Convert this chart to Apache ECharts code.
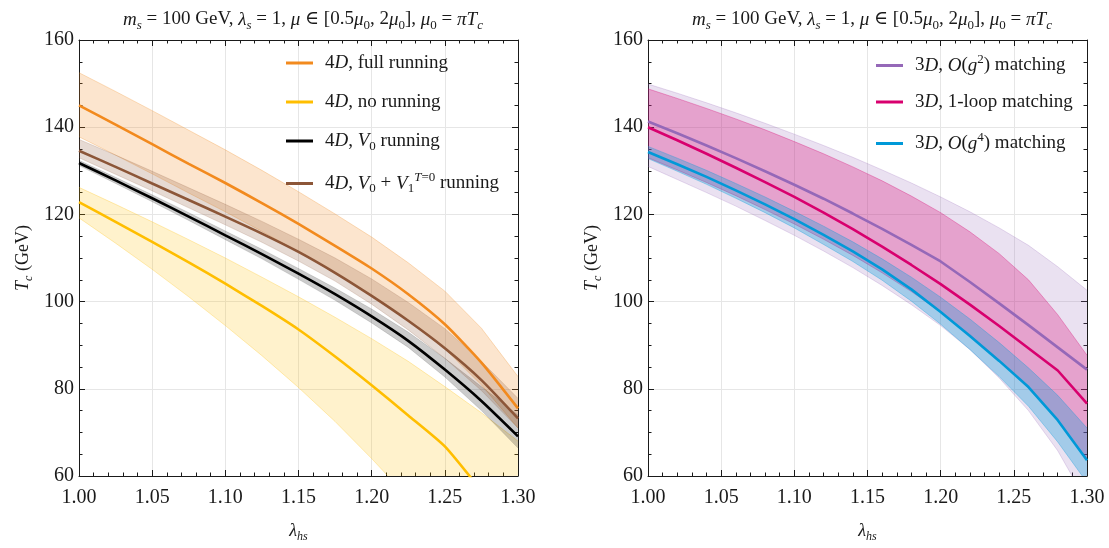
<!DOCTYPE html>
<html>
<head>
<meta charset="utf-8">
<script src="https://cdn.jsdelivr.net/npm/echarts@6/dist/echarts.min.js"></script>
<style>
  html, body { margin: 0; padding: 0; background: #fff; }
  #chart { width: 1109px; height: 548px; }
</style>
</head>
<body>
<div id="chart"></div>
<script>
// ---- data: 4D panel (lambda_hs step 0.025) ----
const x4D = [1.000, 1.025, 1.050, 1.075, 1.100, 1.125, 1.150, 1.175, 1.200, 1.225, 1.250, 1.275, 1.300];
const fullRun   = [145.0, 140.6, 136.1, 131.6, 127.2, 122.6, 117.8, 112.8, 107.6, 101.7, 94.8, 86.0, 75.5];
const fullRunLo = [137.8, 133.6, 129.3, 124.9, 120.6, 116.1, 111.4, 106.5, 101.4, 95.7, 89.2, 80.9, 71.0];
const fullRunHi = [152.5, 148.2, 143.8, 139.3, 134.8, 130.1, 125.2, 120.1, 114.8, 108.9, 102.4, 93.9, 82.8];
const noRun     = [122.8, 118.3, 113.7, 109.0, 104.1, 99.0, 93.6, 87.4, 80.8, 73.9, 66.8, 56.6, 46.0];
const noRunLo   = [119.2, 113.4, 107.4, 101.1, 94.5, 87.6, 80.3, 72.5, 64.0, 55.0, 45.0, 35.0, 25.0];
const noRunHi   = [126.2, 122.3, 118.3, 114.2, 110.0, 105.6, 101.1, 96.4, 91.5, 86.3, 80.5, 74.5, 68.0];
const v0Run     = [131.8, 127.8, 123.7, 119.5, 115.2, 110.9, 106.4, 101.7, 96.6, 91.0, 84.4, 77.2, 69.1];
const v0RunLo   = [131.2, 127.1, 122.9, 118.6, 114.2, 109.8, 105.1, 100.3, 95.1, 89.5, 82.7, 75.0, 66.4];
const v0RunHi   = [132.4, 128.5, 124.5, 120.4, 116.2, 112.0, 107.6, 103.1, 98.3, 93.0, 87.0, 80.5, 74.0];
const v01Run    = [134.6, 130.9, 127.1, 123.3, 119.5, 115.6, 111.4, 106.6, 101.3, 95.6, 89.3, 82.0, 73.2];
const v01RunLo  = [133.0, 129.2, 125.4, 121.5, 117.6, 113.6, 109.3, 104.7, 99.4, 93.5, 87.0, 79.6, 71.0];
const v01RunHi  = [137.2, 133.6, 129.9, 126.1, 122.3, 118.4, 114.3, 110.0, 105.2, 99.8, 93.8, 86.3, 77.8];

// ---- data: 3D panel (lambda_hs step 0.02) ----
const x3D = [1.00, 1.02, 1.04, 1.06, 1.08, 1.10, 1.12, 1.14, 1.16, 1.18, 1.20, 1.22, 1.24, 1.26, 1.28, 1.30];
const g2Match   = [141.3, 138.6, 135.8, 132.9, 129.9, 126.8, 123.6, 120.2, 116.7, 113.0, 109.2, 104.5, 99.6, 94.6, 89.5, 84.4];
const g2MatchLo = [131.0, 128.0, 125.0, 121.9, 118.6, 115.2, 111.6, 107.8, 103.7, 99.3, 94.5, 89.0, 82.5, 75.0, 65.8, 54.0];
const g2MatchHi = [149.9, 147.8, 145.6, 143.3, 140.9, 138.4, 135.8, 133.1, 130.2, 127.2, 124.0, 120.6, 116.9, 112.9, 108.0, 102.6];
const loopMatch   = [140.0, 137.0, 133.9, 130.7, 127.4, 124.0, 120.4, 116.6, 112.6, 108.4, 104.0, 99.3, 94.4, 89.3, 84.2, 76.6];
const loopMatchLo = [133.0, 130.2, 127.3, 124.3, 121.1, 117.8, 114.3, 110.6, 106.6, 102.3, 97.6, 92.4, 86.6, 80.1, 72.7, 64.0];
const loopMatchHi = [148.8, 146.6, 144.3, 141.9, 139.4, 136.7, 133.9, 130.9, 127.7, 124.2, 120.4, 116.0, 111.0, 105.0, 97.0, 87.7];
const g4Match   = [134.3, 131.5, 128.6, 125.5, 122.3, 118.9, 115.3, 111.5, 107.4, 102.8, 97.6, 92.1, 86.4, 80.4, 72.8, 63.6];
const g4MatchLo = [132.8, 129.9, 126.9, 123.7, 120.4, 116.9, 113.1, 109.2, 104.9, 100.1, 94.8, 89.0, 82.8, 76.0, 67.8, 58.5];
const g4MatchHi = [135.6, 132.9, 130.1, 127.1, 124.0, 120.7, 117.3, 113.7, 109.8, 105.6, 101.0, 96.0, 90.6, 84.8, 78.5, 71.0];

// axis ranges and ticks
const xMin = 1.0, xMax = 1.3, xStep = 0.05;
const yMin = 60, yMax = 160, yStep = 20;

const SERIF = '"Liberation Serif", "DejaVu Serif", serif';
const INK = '#1a1a1a';

function richSet(size, lh) {
  const s = Math.round(size * 0.68);
  const base = { fontFamily: SERIF, color: INK, fontWeight: 'normal' };
  return {
    r:    Object.assign({}, base, { fontSize: size, lineHeight: lh }),
    i:    Object.assign({}, base, { fontSize: size, lineHeight: lh, fontStyle: 'italic' }),
    sub:  Object.assign({}, base, { fontSize: s, lineHeight: s, verticalAlign: 'bottom' }),
    isub: Object.assign({}, base, { fontSize: s, lineHeight: s, verticalAlign: 'bottom', fontStyle: 'italic' }),
    sup:  Object.assign({}, base, { fontSize: s, lineHeight: s, verticalAlign: 'top' }),
    isup: Object.assign({}, base, { fontSize: s, lineHeight: s, verticalAlign: 'top', fontStyle: 'italic' })
  };
}
const richTitle = richSet(19, 25);
const richLegend = richSet(19, 24);
const richAxis = richSet(18, 24);

const titleText = '{i|m}{isub|s}{r| = 100 GeV, }{i|λ}{isub|s}{r| = 1, }{i|μ}{r| ∈ [0.5}{i|μ}{sub|0}{r|, 2}{i|μ}{sub|0}{r|], }{i|μ}{sub|0}{r| = }{i|πT}{isub|c}';

const legendLabels = {
  'full':  '{r|4}{i|D}{r|, full running}',
  'none':  '{r|4}{i|D}{r|, no running}',
  'v0':    '{r|4}{i|D}{r|, }{i|V}{sub|0}{r| running}',
  'v01':   '{r|4}{i|D}{r|, }{i|V}{sub|0}{r| + }{i|V}{sub|1}{isup|T}{sup|=0}{r| running}',
  'g2':    '{r|3}{i|D}{r|, }{i|O}{r|(}{i|g}{sup|2}{r|) matching}',
  'loop':  '{r|3}{i|D}{r|, 1-loop matching}',
  'g4':    '{r|3}{i|D}{r|, }{i|O}{r|(}{i|g}{sup|4}{r|) matching}'
};

const pairs = (xs, ys) => xs.map((x, k) => [x, ys[k]]);

// shaded uncertainty band between lo and hi, drawn as one polygon in data coordinates
function band(gi, xs, lo, hi, color, alpha, edgeAlpha) {
  return {
    type: 'custom', coordinateSystem: 'cartesian2d',
    xAxisIndex: gi * 2, yAxisIndex: gi * 2, clip: true, silent: true, z: 1,
    data: [[xs[0], lo[0]]],
    renderItem: function (params, api) {
      const top = xs.map((x, k) => api.coord([x, hi[k]]));
      const bot = xs.map((x, k) => api.coord([x, lo[k]]));
      const poly = top.concat(bot.slice().reverse());
      const cs = params.coordSys;
      return {
        type: 'group',
        clipPath: { type: 'rect', shape: { x: cs.x, y: cs.y, width: cs.width, height: cs.height } },
        children: [
          { type: 'polygon', shape: { points: poly }, style: { fill: color, opacity: alpha } },
          { type: 'polyline', shape: { points: top }, style: { fill: null, stroke: color, lineWidth: 0.8, opacity: edgeAlpha } },
          { type: 'polyline', shape: { points: bot }, style: { fill: null, stroke: color, lineWidth: 0.8, opacity: edgeAlpha } }
        ]
      };
    }
  };
}

function curve(key, gi, xs, ys, color, smooth) {
  return {
    type: 'line', name: key, xAxisIndex: gi * 2, yAxisIndex: gi * 2,
    data: pairs(xs, ys), symbol: 'none', smooth: smooth, z: 3,
    lineStyle: { color: color, width: 2.6 }, itemStyle: { color: color }
  };
}

const C = {
  full: '#F28A1E', none: '#FFBE00', v0: '#000000', v01: '#8C5638',
  g2: '#9568B8', loop: '#D8006E', g4: '#0099D8'
};

function xAxes(gi) {
  const base = {
    type: 'value', gridIndex: gi, min: xMin, max: xMax, interval: xStep,
    axisLine: { show: true, onZero: false, lineStyle: { color: INK, width: 1 } },
    axisTick: { show: true, inside: true, length: 6, lineStyle: { color: INK } },
    minorTick: { show: true, splitNumber: 5, length: 3.5, lineStyle: { color: INK } }
  };
  return [
    Object.assign({}, base, {
      position: 'bottom',
      axisLabel: { show: true, margin: 12, fontFamily: SERIF, fontSize: 20, color: INK,
        formatter: v => v.toFixed(2) },
      splitLine: { show: true, lineStyle: { color: '#e6e6e6', width: 1 } },
      name: '{i|λ}{isub|hs}', nameLocation: 'middle', nameGap: 43,
      nameTextStyle: { rich: richAxis }
    }),
    Object.assign({}, base, {
      position: 'top', axisLabel: { show: false }, splitLine: { show: false }
    })
  ];
}

function yAxes(gi) {
  const base = {
    type: 'value', gridIndex: gi, min: yMin, max: yMax, interval: yStep,
    axisLine: { show: true, onZero: false, lineStyle: { color: INK, width: 1 } },
    axisTick: { show: true, inside: true, length: 6, lineStyle: { color: INK } },
    minorTick: { show: true, splitNumber: 4, length: 3.5, lineStyle: { color: INK } }
  };
  return [
    Object.assign({}, base, {
      position: 'left',
      axisLabel: { show: true, margin: 5, fontFamily: SERIF, fontSize: 20, color: INK },
      splitLine: { show: true, lineStyle: { color: '#e6e6e6', width: 1 } },
      name: '{i|T}{isub|c}{r| (GeV)}', nameLocation: 'middle', nameGap: 44, nameRotate: 90,
      nameTextStyle: { rich: richAxis }
    }),
    Object.assign({}, base, {
      position: 'right', axisLabel: { show: false }, splitLine: { show: false }
    })
  ];
}

// one legend entry per row so the rows sit at fixed heights
function legendRow(left, centerY, name) {
  return {
    orient: 'vertical', left: left, top: centerY - 12, padding: 0,
    itemWidth: 27, itemHeight: 3, icon: 'rect',
    data: [name],
    formatter: n => legendLabels[n],
    textStyle: { fontFamily: SERIF, fontSize: 19, color: INK, rich: richLegend, padding: [0, 0, 0, 7] }
  };
}
const rowY = [65.5, 104.5, 143.5, 183.5];

const series = [
  band(0, x4D, fullRunLo, fullRunHi, C.full, 0.22, 0.35),
  band(0, x4D, noRunLo, noRunHi, C.none, 0.2, 0.35),
  band(0, x4D, v0RunLo, v0RunHi, '#000000', 0.2, 0.15),
  band(0, x4D, v01RunLo, v01RunHi, C.v01, 0.22, 0.25),
  curve('full', 0, x4D, fullRun, C.full, 0.2),
  curve('none', 0, x4D, noRun, C.none, 0.2),
  curve('v0', 0, x4D, v0Run, C.v0, 0.2),
  curve('v01', 0, x4D, v01Run, C.v01, 0.2),
  band(1, x3D, g2MatchLo, g2MatchHi, C.g2, 0.2, 0.3),
  band(1, x3D, loopMatchLo, loopMatchHi, C.loop, 0.28, 0.4),
  band(1, x3D, g4MatchLo, g4MatchHi, C.g4, 0.3, 0.4),
  curve('g2', 1, x3D, g2Match, C.g2, false),
  curve('loop', 1, x3D, loopMatch, C.loop, false),
  curve('g4', 1, x3D, g4Match, C.g4, false)
];

const chart = echarts.init(document.getElementById('chart'), null, { renderer: 'canvas' });
chart.setOption({
  backgroundColor: '#ffffff',
  animation: false,
  title: [
    { text: titleText, left: 298, top: 2, textAlign: 'center', textStyle: { fontWeight: 'normal', rich: richTitle } },
    { text: titleText, left: 867, top: 2, textAlign: 'center', textStyle: { fontWeight: 'normal', rich: richTitle } }
  ],
  grid: [
    { left: 79, top: 40, width: 439, height: 438 },
    { left: 648, top: 40, width: 439, height: 438 }
  ],
  xAxis: [].concat(xAxes(0), xAxes(1)),
  yAxis: [].concat(yAxes(0), yAxes(1)),
  legend: [
    legendRow(286, rowY[0], 'full'),
    legendRow(286, rowY[1], 'none'),
    legendRow(286, rowY[2], 'v0'),
    legendRow(286, rowY[3], 'v01'),
    legendRow(876, rowY[0], 'g2'),
    legendRow(876, rowY[1], 'loop'),
    legendRow(876, rowY[2], 'g4')
  ],
  series: series
});
</script>
</body>
</html>
